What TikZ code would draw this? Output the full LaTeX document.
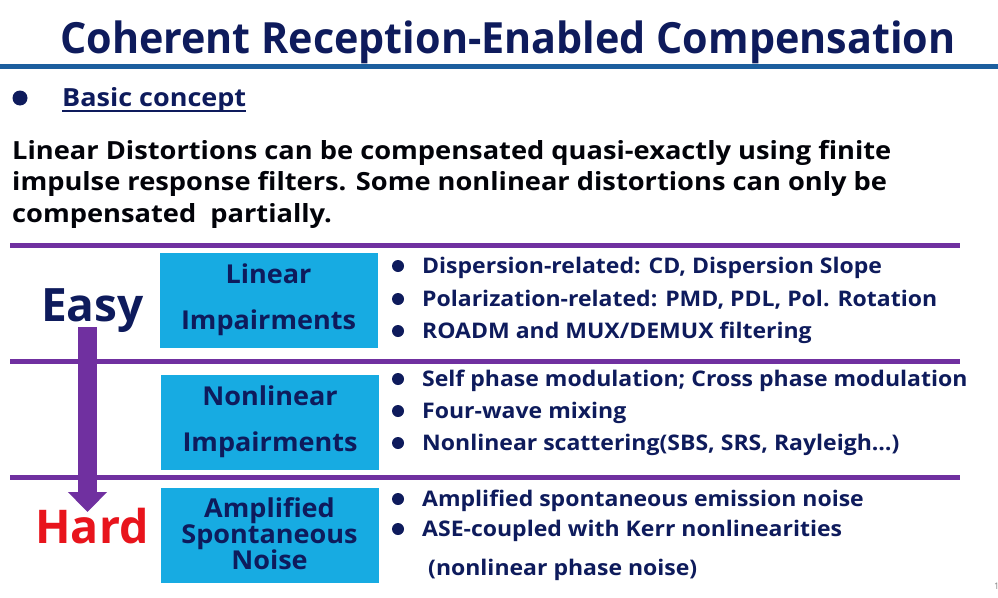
\documentclass[tikz,border=0pt]{standalone}
\usepackage{fontspec}
\usepackage{graphicx}
\setmainfont{Open Sans}
\usetikzlibrary{arrows.meta}
\definecolor{navy}{HTML}{0E1B5C}
\definecolor{titleblue}{HTML}{1C5E9E}
\definecolor{lpurple}{HTML}{7030A0}
\definecolor{boxcyan}{HTML}{17ABE2}
\definecolor{hardred}{HTML}{E8141C}
\newcommand{\hsc}[2]{\scalebox{#1}[1]{#2}}
\tikzset{
  sep/.style={line width=4.5pt, lpurple},
  catbox/.style={fill=boxcyan, draw=none, minimum width=218pt, minimum height=95pt, inner sep=0pt},
  cattext/.style={font=\bfseries\fontsize{26}{27}\selectfont, text=navy, anchor=base, inner sep=0pt},
  item/.style={font=\bfseries\fontsize{21.5}{23}\selectfont, text=navy, anchor=base west, inner sep=0pt},
  dot/.style={circle, fill=navy, minimum size=12pt, inner sep=0pt},
  para/.style={font=\bfseries\fontsize{25}{27}\selectfont, text=black!90!navy, anchor=base west, inner sep=0pt},
}
\begin{document}
\begin{tikzpicture}[x=1pt, y=-1pt]
\useasboundingbox (0,0) rectangle (998,597);
\fill[white] (0,0) rectangle (998,597);
% title
\node[font=\bfseries\fontsize{43}{45}\selectfont, text=navy, anchor=base west, inner sep=0pt] (title) at (60,53) {\hsc{0.96}{Coherent Reception-Enabled Compensation}};
\coordinate (tl) at (0,66.5);
\coordinate (tr) at (998,66.5);
\draw[line width=5pt, titleblue] (tl) -- (tr);
% basic concept
\node[dot, minimum size=15pt] (bd) at (20,98) {};
\node[font=\bfseries\fontsize{25}{27}\selectfont, text=navy, anchor=base west, inner sep=0pt] (basic) at (62,106) {\hsc{1.08}{Basic concept}};
\draw[navy, line width=1.8pt] ([yshift=-5pt]basic.base west) -- ([yshift=-5pt]basic.base east);
% paragraph
\node[para] (p1) at (12,159) {\hsc{1.09}{Linear Distortions can be compensated quasi-exactly using finite}};
\node[para] (p2) at (12,190.5) {\hsc{1.09}{impulse response filters. Some nonlinear distortions can only be}};
\node[para] (p3) at (12,222) {\hsc{1.09}{compensated\ \ partially.}};
% separators
\foreach \y/\n in {245.5/a,361.5/b,477.5/c}{
  \coordinate (sl\n) at (10,\y);
  \coordinate (sr\n) at (960,\y);
  \draw[sep] (sl\n) -- (sr\n);
}
% boxes
\node[catbox] (lin) at (268.5,300.5) {};
\node[cattext] (lin1) at (268.5,283) {\hsc{1.04}{Linear}};
\node[cattext] (lin2) at (268.5,329) {\hsc{1.04}{Impairments}};
\node[catbox] (nl) at (270,422) {};
\node[cattext] (nl1) at (270,405) {\hsc{1.04}{Nonlinear}};
\node[cattext] (nl2) at (270,451) {\hsc{1.04}{Impairments}};
\node[catbox] (ase) at (269.5,535) {};
\node[cattext] (ase1) at (269.5,517) {\hsc{1.04}{Amplified}};
\node[cattext] (ase2) at (269.5,543) {\hsc{1.04}{Spontaneous}};
\node[cattext] (ase3) at (269.5,569) {\hsc{1.04}{Noise}};
% easy / hard
\node[font=\bfseries\fontsize{46}{48}\selectfont, text=navy, anchor=base, inner sep=0pt] (easy) at (92.5,321) {Easy};
\node[font=\bfseries\fontsize{46.5}{48}\selectfont, text=hardred, anchor=base, inner sep=0pt] (hard) at (92,543) {Hard};
\coordinate (astart) at (87.5,327);
\coordinate (aend) at (87.5,512);
\draw[line width=19pt, lpurple, -{Triangle[width=38pt,length=20pt]}] (astart) -- (aend);
% items
\foreach \y/\t [count=\i] in {
  273/{Dispersion-related: CD, Dispersion Slope},
  306/{Polarization-related: PMD, PDL, Pol. Rotation},
  338/{ROADM and MUX/DEMUX filtering},
  386/{Self phase modulation; Cross phase modulation},
  418/{Four-wave mixing},
  450/{Nonlinear scattering(SBS, SRS, Rayleigh\dots)},
  506/{Amplified spontaneous emission noise},
  536/{ASE-coupled with Kerr nonlinearities}}{
  \node[dot] (d\i) at (398,\y-7) {};
  \node[item] (it\i) at (422,\y) {\hsc{1.07}{\t}};
}
\node[item] (it9) at (428,575) {\hsc{1.07}{(nonlinear phase noise)}};
\node[font=\fontsize{9}{10}\selectfont, text=black!50, anchor=base west, inner sep=0pt] (pg) at (994,589) {1};
\end{tikzpicture}
\end{document}
